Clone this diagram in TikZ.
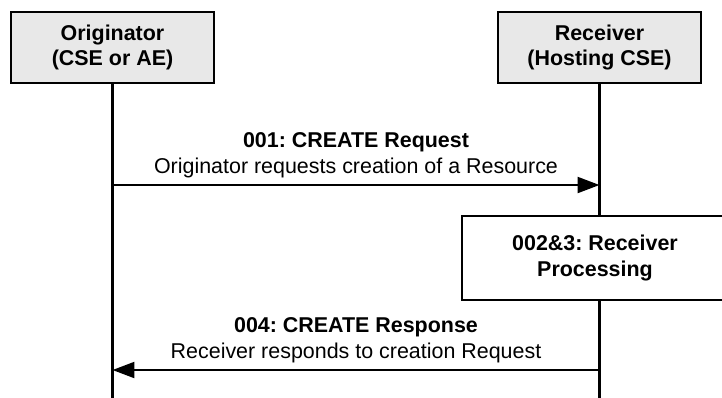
\documentclass[tikz,border=0pt]{standalone}
\usepackage{fontspec}
\setmainfont{Liberation Sans}
\usetikzlibrary{arrows.meta}
\frenchspacing

\newcommand{\diagfont}{\fontsize{12.2}{14.7}\selectfont}

\tikzset{
	entity/.style={draw, line width=1.3pt, fill=black!9, minimum width=4.06cm,
		minimum height=1.42cm, align=center, font=\diagfont\bfseries},
	procbox/.style={draw, line width=1.3pt, fill=white, minimum width=5.32cm,
		minimum height=1.68cm, align=center, font=\diagfont\bfseries},
	lifeline/.style={line width=1.3pt},
	msg/.style={line width=1.3pt, -{Triangle[length=0.44cm, width=0.32cm]}},
	msglabel/.style={above=0.12cm, inner sep=0pt, align=center}
}

\begin{document}
\begin{tikzpicture}[x=0.02cm, y=-0.02cm, font=\diagfont]
	\useasboundingbox (0,0) rectangle (722,397);
	\clip (0,0) rectangle (722,397);

	% entita
	\node[entity] (orig) at (112.5,47.5) {Originator\\(CSE or AE)};
	\node[entity] (recv) at (599.5,47.5) {Receiver\\(Hosting CSE)};

	% linee di vita
	\coordinate (bottom) at (0,400);
	\draw[lifeline] (orig) -- (orig |- bottom);
	\draw[lifeline] (recv) -- (recv |- bottom);

	% richiesta
	\coordinate (reqy) at (0,185);
	\draw[msg] (orig |- reqy) -- (recv |- reqy)
		node[midway, msglabel] {\textbf{001: CREATE Request}\\Originator requests creation of a Resource};

	% elaborazione
	\node[procbox] (proc) at (595,258) {002\&3: Receiver\\Processing};

	% risposta
	\coordinate (respy) at (0,370);
	\draw[msg] (recv |- respy) -- (orig |- respy)
		node[midway, msglabel] {\textbf{004: CREATE Response}\\Receiver responds to creation Request};

\end{tikzpicture}
\end{document}
